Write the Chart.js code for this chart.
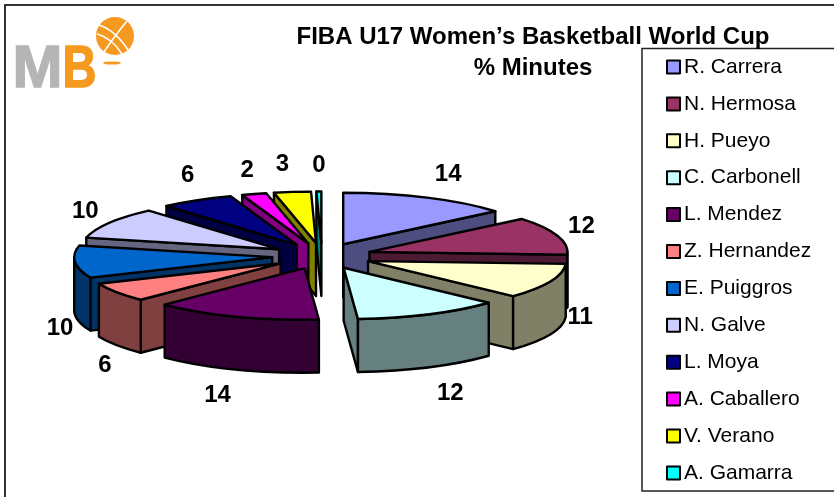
<!DOCTYPE html>
<html><head><meta charset="utf-8">
<style>html,body{margin:0;padding:0;background:#fff}#w{width:834px;height:497px;position:relative}</style>
<script src="https://cdn.jsdelivr.net/npm/chart.js@4/dist/chart.umd.min.js"></script>
</head><body><div id="w"><canvas id="c" width="834" height="497"></canvas></div>
<script>
const players = ["R. Carrera","N. Hermosa","H. Pueyo","C. Carbonell","L. Mendez","Z. Hernandez","E. Puiggros","N. Galve","L. Moya","A. Caballero","V. Verano","A. Gamarra"];
const minutes = [13.9,11.9,11.0,11.9,13.6,6.0,10.1,9.9,6.0,2.0,3.0,0.4];
const topColors = ["#9999FF","#993366","#FFFFCC","#CCFFFF","#660066","#FF8080","#0066CC","#CCCCFF","#000080","#FF00FF","#FFFF00","#00FFFF"];
const sideColors = ["#4D4D80","#4D1A33","#808066","#668080","#330033","#804040","#003366","#666680","#000040","#800080","#808000","#008080"];
const titleLines = ["FIBA U17 Women\u2019s Basketball World Cup","% Minutes"];
const labelNudges = [[21,-23],[24,-9],[30,36],[21,79],[-18,79],[-12,73],[-15,67],[-24,-11],[-9,-25],[-7,-24],[-10,-28],[0,-26]];
const TILT = 0.26, DEPTH = 53, CX = 322, CY = 256, EXPLODE = 50, RADIUS = 198;

const pie3d = {
  id:'pie3d',
  afterLayout(chart){
    chart.chartArea = {left:CX-300,right:CX+300,top:CY-240,bottom:CY+240,width:600,height:480};
    const l = chart.legend;
    l.left=642; l.right=834; l.top=40.6; l.bottom=540;
    l.width=192; l.height=499.4;
    const t = chart.titleBlock;
    t.left=233; t.right=833; t.top=21.5; t.bottom=84.5; t.width=600; t.height=63;
  },
  beforeDraw(chart){
    const c=chart.ctx; c.save();
    c.fillStyle='#fff'; c.fillRect(0,0,834,497);
    c.strokeStyle='#333'; c.lineWidth=2;
    c.strokeRect(5,5,840,500);
    c.lineWidth=1.5; c.fillStyle='#fff'; c.strokeStyle='#222';
    c.fillRect(642,48.5,200,442.5); c.strokeRect(642,48.5,200,442.5);
    // logo
    c.textBaseline='alphabetic'; c.textAlign='left';
    c.font='bold 60px "Liberation Sans"'; c.lineWidth=1.5;
    c.fillStyle='#B5B5B5'; c.strokeStyle='#B5B5B5'; c.fillText('M',12.5,87,54); c.strokeText('M',12.5,87,54);
    c.fillStyle='#F59A1F'; c.strokeStyle='#F59A1F'; c.fillText('B',62.5,87,34); c.strokeText('B',62.5,87,34);
    c.beginPath(); c.arc(115,36,19,0,Math.PI*2); c.fill();
    c.strokeStyle='#FFF'; c.lineWidth=1.6;
    c.beginPath(); c.moveTo(99,25); c.quadraticCurveTo(115,30,128,50);
    c.moveTo(97,34); c.quadraticCurveTo(112,38,122,54);
    c.moveTo(127,21); c.quadraticCurveTo(116,34,104,52); c.stroke();
    c.fillStyle='#F59A1F'; c.beginPath(); c.ellipse(112,63,9,1.6,0,0,Math.PI*2); c.fill();
    c.restore();
  },
  beforeDatasetDraw(){ return false; },
  afterDatasetsDraw(chart){
    const c=chart.ctx, meta=chart.getDatasetMeta(0), ds=chart.data.datasets[0];
    const items = meta.data.map((arc,i)=>{
      const p=arc.getProps(['x','y','startAngle','endAngle','outerRadius']);
      const off=arc.options.offset/2, mid=(p.startAngle+p.endAngle)/2;
      return {i,p,mid,ax:p.x+Math.cos(mid)*off,ay:p.y+Math.sin(mid)*off*TILT};
    });
    const order=[...items].sort((a,b)=>Math.sin(a.mid)-Math.sin(b.mid));
    c.save(); c.lineJoin='round'; c.lineWidth=2.4; c.strokeStyle='#000';
    const px=(it,a)=>it.ax+Math.cos(a)*it.p.outerRadius;
    const py=(it,a)=>it.ay+Math.sin(a)*it.p.outerRadius*TILT;
    for(const it of order){
      const s=it.p.startAngle,e=it.p.endAngle,r=it.p.outerRadius,col=sideColors[it.i];
      const wall=(a)=>{c.beginPath();c.moveTo(it.ax,it.ay);c.lineTo(px(it,a),py(it,a));
        c.lineTo(px(it,a),py(it,a)+DEPTH);c.lineTo(it.ax,it.ay+DEPTH);c.closePath();
        c.fillStyle=col;c.fill();c.stroke();};
      if(Math.cos(s)<0) wall(s);
      if(Math.cos(e)>0) wall(e);
      const fs=Math.max(s,0), fe=Math.min(e,Math.PI);
      if(fe>fs){
        c.beginPath();
        c.ellipse(it.ax,it.ay,r,r*TILT,0,fs,fe,false);
        c.lineTo(px(it,fe),py(it,fe)+DEPTH);
        c.ellipse(it.ax,it.ay+DEPTH,r,r*TILT,0,fe,fs,true);
        c.closePath();c.fillStyle=col;c.fill();c.stroke();
      }
      c.beginPath();c.moveTo(it.ax,it.ay);
      c.ellipse(it.ax,it.ay,r,r*TILT,0,s,e,false);
      c.closePath();c.fillStyle=topColors[it.i];c.fill();c.stroke();
    }
    c.fillStyle='#000';c.font='bold 24px "Liberation Sans"';c.textAlign='center';c.textBaseline='middle';
    items.forEach(it=>{
      const R=it.p.outerRadius+EXPLODE;
      const x=it.p.x+Math.cos(it.mid)*R+labelNudges[it.i][0];
      const y=it.p.y+Math.sin(it.mid)*R*TILT+labelNudges[it.i][1];
      c.fillText(String(Math.round(ds.data[it.i])),x,y);
    });
    chart.legend.legendHitBoxes.forEach((b,i)=>{
      const my=b.top+b.height/2;
      c.fillStyle=topColors[i];c.strokeStyle='#000';c.lineWidth=2;
      c.fillRect(667,my-6.5,13,13);c.strokeRect(667,my-6.5,13,13);
    });
    c.restore();
  }
};
new Chart(document.getElementById('c'),{
  type:'pie',
  data:{labels:players,datasets:[{data:minutes,backgroundColor:topColors,offset:EXPLODE*2,radius:RADIUS,borderWidth:0}]},
  options:{
    responsive:false,animation:false,
    plugins:{
      tooltip:{enabled:false},
      title:{display:true,text:titleLines,color:'#000',font:{family:'"Liberation Sans"',size:24,weight:'bold',lineHeight:1.3},padding:0},
      legend:{position:'right',align:'start',labels:{
        color:'#000',font:{family:'"Liberation Sans"',size:21,lineHeight:1.2},
        boxWidth:15.6,boxHeight:0,padding:15.9,
        generateLabels(chart){return players.map((t,i)=>({text:t,fillStyle:'rgba(0,0,0,0)',strokeStyle:'rgba(0,0,0,0)',lineWidth:0,index:i}));}
      }}
    }
  },
  plugins:[pie3d]
});
</script></body></html>
